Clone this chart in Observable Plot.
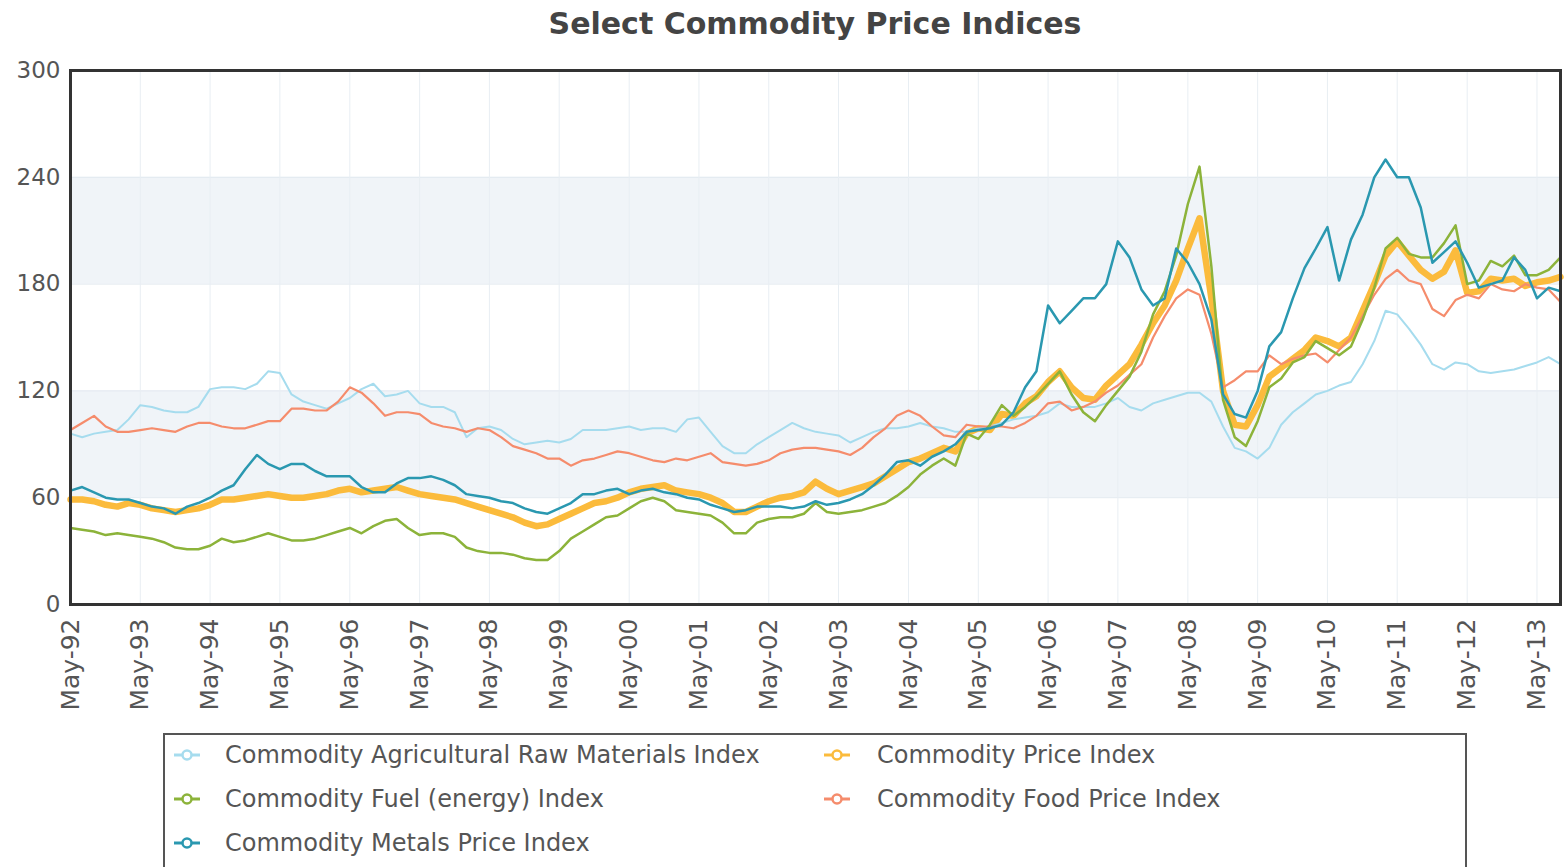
<!DOCTYPE html>
<html><head><meta charset="utf-8">
<script src="https://cdn.jsdelivr.net/npm/d3@7"></script>
<script src="https://cdn.jsdelivr.net/npm/@observablehq/plot@0.6"></script>
<style>
body{margin:0;background:#fff;font-family:"DejaVu Sans",Verdana,sans-serif;}
#wrap{position:relative;width:1565px;height:867px;overflow:hidden;background:#fff;}
#title{position:absolute;left:70px;width:1490px;top:4px;text-align:center;font-size:30px;line-height:40px;font-weight:bold;color:#444;}
#chart{position:absolute;left:0;top:50px;}
#legend{position:absolute;left:163px;top:733px;width:1300px;height:150px;border:2px solid #555;}
.item{position:absolute;font-size:24px;color:#555;white-space:nowrap;line-height:28px;}
.mk{position:absolute;}
</style></head>
<body>
<div id="wrap">
  <div id="title">Select Commodity Price Indices</div>
  <div id="chart"></div>
  <div id="legend"></div>
</div>
<script>
// Bi-monthly readings, May-92 .. Sep-13
const agRaw = [
  96,94,96,97,98,104,112,111,109,108,
  108,111,121,122,122,121,124,131,130,118,
  114,112,110,113,116,121,124,117,118,120,
  113,111,111,108,94,99,100,98,93,90,
  91,92,91,93,98,98,98,99,100,98,
  99,99,97,104,105,97,89,85,85,90,
  94,98,102,99,97,96,95,91,94,97,
  99,99,100,102,100,99,97,97,99,100,
  102,104,105,106,108,113,111,111,111,113,
  116,111,109,113,115,117,119,119,114,100,
  88,86,82,88,101,108,113,118,120,123,
  125,135,148,165,163,155,146,135,132,136,
  135,131,130,131,132,134,136,139,135];
const cpi = [
  59,59,58,56,55,57,56,54,53,52,
  53,54,56,59,59,60,61,62,61,60,
  60,61,62,64,65,63,64,65,66,64,
  62,61,60,59,57,55,53,51,49,46,
  44,45,48,51,54,57,58,60,63,65,
  66,67,64,63,62,60,57,52,52,55,
  58,60,61,63,69,65,62,64,66,68,
  72,76,80,82,85,88,86,96,99,98,
  107,106,113,117,125,131,122,116,115,123,
  129,135,146,158,168,182,200,217,172,120,
  101,100,112,128,133,138,143,150,148,145,
  150,165,180,196,204,196,188,183,187,199,
  175,176,183,182,183,179,181,182,184];
const fuel = [
  43,42,41,39,40,39,38,37,35,32,
  31,31,33,37,35,36,38,40,38,36,
  36,37,39,41,43,40,44,47,48,43,
  39,40,40,38,32,30,29,29,28,26,
  25,25,30,37,41,45,49,50,54,58,
  60,58,53,52,51,50,46,40,40,46,
  48,49,49,51,57,52,51,52,53,55,
  57,61,66,73,78,82,78,96,93,101,
  112,106,111,117,124,131,118,108,103,112,
  120,128,142,163,176,196,225,246,190,115,
  94,89,103,122,127,136,139,148,144,140,
  145,160,178,200,206,197,195,195,203,213,
  180,182,193,190,196,185,185,188,195];
const metals = [
  64,66,63,60,59,59,57,55,54,51,
  55,57,60,64,67,76,84,79,76,79,
  79,75,72,72,72,66,63,63,68,71,
  71,72,70,67,62,61,60,58,57,54,
  52,51,54,57,62,62,64,65,62,64,
  65,63,62,60,59,56,54,52,53,55,
  55,55,54,55,58,56,57,59,62,67,
  73,80,81,78,83,86,90,97,98,99,
  101,108,122,131,168,158,165,172,172,180,
  204,195,177,168,172,200,192,180,160,118,
  107,105,120,145,153,172,189,200,212,182,
  205,219,240,250,240,240,223,192,198,204,
  192,178,180,182,195,188,172,178,176];
const food = [
  98,102,106,100,97,97,98,99,98,97,
  100,102,102,100,99,99,101,103,103,110,
  110,109,109,114,122,119,113,106,108,108,
  107,102,100,99,97,99,98,94,89,87,
  85,82,82,78,81,82,84,86,85,83,
  81,80,82,81,83,85,80,79,78,79,
  81,85,87,88,88,87,86,84,88,94,
  99,106,109,106,100,95,94,101,100,100,
  100,99,102,106,113,114,109,111,114,119,
  123,129,135,150,162,172,177,174,152,122,
  126,131,131,140,135,138,140,141,136,143,
  150,162,174,183,188,182,180,166,162,171,
  174,172,180,177,176,180,178,177,170];

const tickLabels = ["May-92","May-93","May-94","May-95","May-96","May-97","May-98","May-99","May-00","May-01","May-02","May-03","May-04","May-05","May-06","May-07","May-08","May-09","May-10","May-11","May-12","May-13"];
const yTicks = [0,60,120,180,240,300];
const bandLo = [60,180];
const bandHi = [120,240];

const seriesNames = ["Commodity Agricultural Raw Materials Index","Commodity Fuel (energy) Index","Commodity Metals Price Index","Commodity Price Index","Commodity Food Price Index"];
const seriesColors = ["#a6dcee","#8cb33a","#2a98b0","#fbbb3c","#f58c6c"];

const dates = cpi.map((_, i) => new Date(Date.UTC(1992, 4 + 2 * i, 1)));
const tickDates = tickLabels.map((_, k) => new Date(Date.UTC(1992 + k, 4, 1)));
const labelFor = new Map(tickDates.map((d, k) => [+d, tickLabels[k]]));
const x0 = dates[0], x1 = dates[dates.length - 1];
const bands = bandLo.map((lo, k) => ({lo, hi: bandHi[k]}));

const chart = Plot.plot({
  width: 1565, height: 678,
  marginLeft: 70, marginRight: 5, marginTop: 20, marginBottom: 124,
  style: {fontFamily: "'DejaVu Sans', Verdana, sans-serif", color: "#555", background: "transparent"},
  x: {type: "utc", domain: [x0, x1]},
  y: {domain: [0, 300]},
  marks: [
    Plot.rect(bands, {x1: () => x0, x2: () => x1, y1: "lo", y2: "hi", fill: "#f0f4f8"}),
    Plot.ruleY(bandLo.concat(bandHi), {stroke: "#e2e9ef", strokeWidth: 1}),
    Plot.gridX({ticks: tickDates, stroke: "#e8eef3", strokeOpacity: 1}),
    Plot.lineY(cpi, {x: dates, stroke: seriesColors[3], strokeWidth: 6.5, strokeLinejoin: "round"}),
    Plot.lineY(agRaw, {x: dates, stroke: seriesColors[0], strokeWidth: 2}),
    Plot.lineY(food, {x: dates, stroke: seriesColors[4], strokeWidth: 2.2}),
    Plot.lineY(fuel, {x: dates, stroke: seriesColors[1], strokeWidth: 2.5}),
    Plot.lineY(metals, {x: dates, stroke: seriesColors[2], strokeWidth: 2.5}),
    Plot.frame({stroke: "#333", strokeWidth: 3}),
    Plot.axisY({ticks: yTicks, tickSize: 0, tickPadding: 10, fontSize: 23, label: null}),
    Plot.axisX({ticks: tickDates, tickFormat: d => labelFor.get(+d), tickRotate: -90, tickSize: 0, tickPadding: 14, fontSize: 25, label: null})
  ]
});
document.getElementById("chart").appendChild(chart);

// Legend
const legend = document.getElementById("legend");
const pos = [[0,0],[0,1],[0,2],[1,0],[1,1]];
seriesNames.forEach((name, k) => {
  const [col, row] = pos[k];
  const cy = 20 + row * 44;
  const mx = col === 0 ? 8 : 658;
  const tx = col === 0 ? 60 : 712;
  const mk = document.createElementNS("http://www.w3.org/2000/svg", "svg");
  mk.setAttribute("width", 28); mk.setAttribute("height", 14);
  mk.setAttribute("class", "mk");
  mk.style.left = mx + "px"; mk.style.top = (cy - 7) + "px";
  mk.innerHTML = `<line x1="1" y1="7" x2="27" y2="7" stroke="${seriesColors[k]}" stroke-width="3"/><circle cx="14" cy="7" r="4.5" fill="#fff" stroke="${seriesColors[k]}" stroke-width="2.5"/>`;
  legend.appendChild(mk);
  const t = document.createElement("div");
  t.className = "item";
  t.textContent = name;
  t.style.left = tx + "px"; t.style.top = (cy - 14) + "px";
  legend.appendChild(t);
});
</script>
</body></html>
